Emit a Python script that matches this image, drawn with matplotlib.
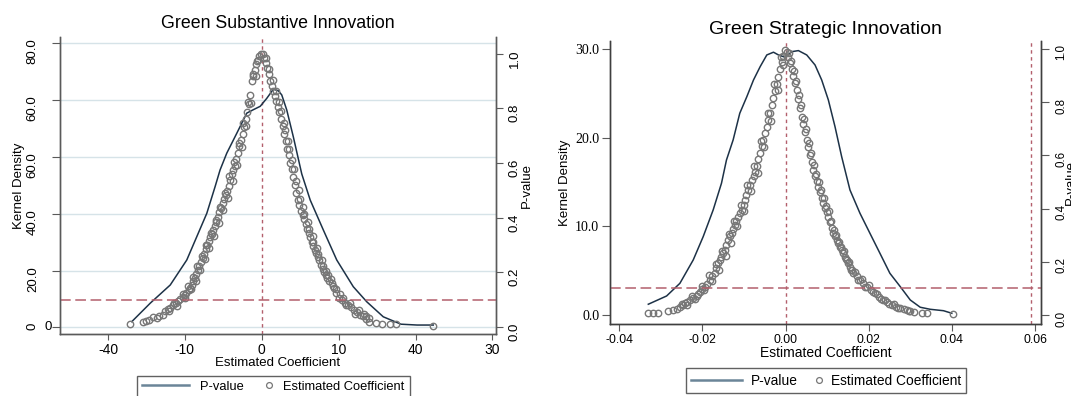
import matplotlib
matplotlib.use('Agg')
import matplotlib.pyplot as plt
from matplotlib.lines import Line2D
from matplotlib.legend_handler import HandlerLine2D
from matplotlib.transforms import blended_transform_factory

plt.rcParams['font.family'] = ['Liberation Sans', 'DejaVu Sans']

# ---- Green Substantive Innovation ----
sub_kd_x = [-16.9, -14.5, -11.9, -9.75, -8.45, -7.15, -6.07, -5.42, -4.55, -3.25, -1.95, -1.1,
            -0.2, 0.65, 1.5, 2.15, 2.6, 3.25, 4.1, 5.2, 6.3, 8.0, 9.75, 11.9, 13.65, 15.8,
            18.1, 20.2, 22.3]
sub_kd_y = [2.0, 8.5, 14.9, 23.7, 31.9, 40.1, 49.5, 55.4, 61.3, 68.3, 75.4, 76.6,
            77.8, 80.6, 83.8, 83.3, 81.8, 76.5, 67.1, 54.0, 44.8, 34.3, 23.7, 14.3, 9.0, 3.7,
            1.1, 0.8, 0.8]

sub_coef_neg = [-17.1, -15.5, -15.0, -14.6, -14.1, -13.6, -13.3, -12.9, -12.6, -12.2, -11.9, -11.5,
                -11.2, -10.9, -10.6, -10.3, -10.0, -9.8, -9.5, -9.3, -9.1, -8.9, -8.7, -8.5,
                -8.3, -8.1, -7.9, -7.7, -7.5, -7.3, -7.1, -6.9, -6.7, -6.5, -6.3, -6.1,
                -5.9, -5.7, -5.5, -5.3, -5.1, -4.9, -4.7, -4.5, -4.3, -4.1, -3.9, -3.7,
                -3.5, -3.3, -3.1, -2.9, -2.7, -2.5, -2.3, -2.1, -1.9, -1.7, -1.5, -1.3,
                -1.1, -0.9, -0.7, -0.5, -0.3, -0.1,
                -12.0, -11.4, -11.0, -10.3, -10.0, -9.6, -9.2, -8.9, -8.6, -8.4, -8.0, -7.8,
                -7.4, -7.2, -6.8, -6.6, -6.2, -6.0, -5.6, -5.4, -5.0, -4.8, -4.4, -4.2,
                -3.8, -3.6, -3.2, -3.0, -2.6, -2.4, -2.0, -1.8, -1.4, -1.2, -0.8, -0.6]
sub_pval_neg = [0.010, 0.018, 0.022, 0.028, 0.036, 0.035, 0.042, 0.045, 0.058, 0.066, 0.070, 0.080,
                0.088, 0.097, 0.104, 0.110, 0.118, 0.125, 0.136, 0.145, 0.153, 0.168, 0.181, 0.195,
                0.208, 0.224, 0.237, 0.252, 0.268, 0.285, 0.300, 0.314, 0.328, 0.342, 0.357, 0.371,
                0.386, 0.404, 0.421, 0.437, 0.453, 0.467, 0.482, 0.499, 0.516, 0.538, 0.560, 0.575,
                0.591, 0.615, 0.638, 0.662, 0.686, 0.708, 0.733, 0.760, 0.787, 0.815, 0.850, 0.900,
                0.918, 0.940, 0.962, 0.978, 0.990, 1.000,
                0.058, 0.090, 0.079, 0.122, 0.105, 0.150, 0.140, 0.185, 0.170, 0.222, 0.210, 0.262,
                0.250, 0.302, 0.290, 0.345, 0.335, 0.392, 0.380, 0.440, 0.428, 0.492, 0.474, 0.552,
                0.535, 0.605, 0.592, 0.675, 0.660, 0.745, 0.735, 0.825, 0.820, 0.925, 0.920, 0.975]

sub_coef_pos = [0.1, 0.3, 0.5, 0.7, 0.9, 1.1, 1.3, 1.5, 1.7, 1.9, 2.1, 2.3, 2.5, 2.7, 2.9, 3.1,
                3.3, 3.5, 3.7, 3.9, 4.1, 4.3, 4.5, 4.7, 4.9, 5.1, 5.3, 5.5, 5.7, 5.9, 6.1, 6.3,
                6.5, 6.7, 6.9, 7.1, 7.3, 7.5, 7.7, 7.9, 8.1, 8.3, 8.5, 8.8, 9.1, 9.4, 9.7, 10.0,
                10.4, 10.8, 11.2, 11.6, 12.0, 12.4, 12.8, 13.2, 13.6, 13.9, 14.9, 15.6, 16.7, 17.5,
                22.3,
                0.6, 1.0, 1.4, 1.8, 2.2, 2.5, 2.9, 3.0, 3.4, 3.6, 3.9, 4.2, 4.5, 4.8, 5.0, 5.4,
                5.5, 6.0, 6.1, 6.6, 6.7, 7.2, 7.3, 7.8, 7.9, 8.4, 8.6, 9.0, 9.2, 9.6, 10.2, 10.5,
                10.9, 11.5, 12.1, 12.6, 13.3, 13.6, 14.0]
sub_pval_pos = [1.000, 0.985, 0.965, 0.948, 0.925, 0.900, 0.880, 0.865, 0.845, 0.826, 0.805, 0.785,
                0.762, 0.735, 0.705, 0.680, 0.650, 0.628, 0.600, 0.578, 0.548, 0.520, 0.490, 0.466,
                0.447, 0.425, 0.410, 0.395, 0.378, 0.360, 0.345, 0.328, 0.311, 0.298, 0.284, 0.272,
                0.258, 0.245, 0.228, 0.214, 0.203, 0.190, 0.180, 0.168, 0.160, 0.145, 0.125, 0.108,
                0.098, 0.090, 0.080, 0.072, 0.062, 0.055, 0.045, 0.040, 0.030, 0.020, 0.015, 0.012,
                0.010, 0.010, 0.006,
                0.985, 0.945, 0.905, 0.865, 0.825, 0.790, 0.745, 0.720, 0.680, 0.650, 0.610, 0.580,
                0.535, 0.500, 0.470, 0.440, 0.415, 0.385, 0.360, 0.335, 0.310, 0.290, 0.268, 0.245,
                0.225, 0.205, 0.190, 0.175, 0.150, 0.140, 0.120, 0.105, 0.080, 0.090, 0.050, 0.062,
                0.048, 0.040, 0.035]

sub_xticks = [-20, -10, 0, 10, 20, 30]
sub_xticklabels = ['-40', '-10', '0', '10', '40', '30']
sub_yticks = [0, 20, 40, 60, 80, 100]
sub_yticklabels = ['0', '20.0', '40.0', '60.0', '60.0', '80.0']

# ---- Green Strategic Innovation ----
str_kd_x = [-0.0330, -0.0286, -0.0254, -0.0222, -0.0198, -0.0174, -0.0154, -0.0142, -0.0126,
            -0.0110, -0.0093, -0.0077, -0.0061, -0.0045, -0.0029, -0.0017, -0.0001, 0.0015,
            0.0031, 0.0051, 0.0071, 0.0087, 0.0103, 0.0119, 0.0135, 0.0155, 0.0179, 0.0203,
            0.0227, 0.0251, 0.0276, 0.0300, 0.0324, 0.0348, 0.0380, 0.0400]
str_kd_y = [1.21, 2.14, 3.57, 6.20, 8.83, 11.84, 14.85, 17.47, 19.73,
            22.74, 24.61, 26.49, 27.99, 29.31, 29.62, 29.31, 29.05, 29.68,
            29.80, 29.31, 28.18, 26.49, 24.24, 21.23, 17.85, 14.09, 11.47, 9.21,
            6.96, 4.70, 3.19, 1.69, 0.87, 0.64, 0.48, 0.19]

str_coef_neg = [-0.0330, -0.0318, -0.0306, -0.0282, -0.0270, -0.0254, -0.0246, -0.0242, -0.0236,
                -0.0230, -0.0222, -0.0214, -0.0210, -0.0206, -0.0200, -0.0194, -0.0188, -0.0182,
                -0.0176, -0.0170, -0.0166, -0.0162, -0.0158, -0.0154, -0.0150, -0.0146, -0.0142,
                -0.0138, -0.0134, -0.0129, -0.0126, -0.0122, -0.0118, -0.0114, -0.0110, -0.0105,
                -0.0101, -0.0097, -0.0094, -0.0090, -0.0086, -0.0081, -0.0077, -0.0073, -0.0069,
                -0.0065, -0.0061, -0.0057, -0.0053, -0.0049, -0.0045, -0.0041, -0.0037, -0.0033,
                -0.0029, -0.0025, -0.0021, -0.0017, -0.0013, -0.0009, -0.0005, -0.0001,
                -0.0262, -0.0250, -0.0238, -0.0226, -0.0218, -0.0202, -0.0196, -0.0184, -0.0178,
                -0.0168, -0.0160, -0.0152, -0.0144, -0.0136, -0.0132, -0.0124, -0.0116, -0.0108,
                -0.0100, -0.0092, -0.0084, -0.0075, -0.0067, -0.0059, -0.0051, -0.0043, -0.0035,
                -0.0027, -0.0019, -0.0011, -0.0007]
str_pval_neg = [0.006, 0.006, 0.006, 0.016, 0.019, 0.029, 0.036, 0.044, 0.050,
                0.056, 0.064, 0.071, 0.080, 0.088, 0.097, 0.106, 0.118, 0.132,
                0.145, 0.157, 0.175, 0.194, 0.206, 0.219, 0.232, 0.244, 0.263,
                0.282, 0.295, 0.307, 0.322, 0.338, 0.354, 0.370, 0.383, 0.395,
                0.414, 0.432, 0.451, 0.470, 0.489, 0.508, 0.524, 0.539, 0.560,
                0.585, 0.608, 0.634, 0.658, 0.683, 0.708, 0.733, 0.758, 0.790,
                0.815, 0.842, 0.870, 0.896, 0.925, 0.950, 0.975, 0.996,
                0.022, 0.040, 0.038, 0.070, 0.060, 0.110, 0.095, 0.150, 0.128,
                0.190, 0.170, 0.242, 0.222, 0.305, 0.270, 0.355, 0.335, 0.415,
                0.392, 0.490, 0.465, 0.560, 0.535, 0.655, 0.630, 0.760, 0.730,
                0.870, 0.845, 0.970, 0.940]

str_coef_pos = [0.0003, 0.0007, 0.0011, 0.0015, 0.0019, 0.0023, 0.0027, 0.0031, 0.0035, 0.0039,
                0.0043, 0.0047, 0.0051, 0.0055, 0.0059, 0.0063, 0.0067, 0.0071, 0.0075, 0.0079,
                0.0083, 0.0087, 0.0091, 0.0095, 0.0099, 0.0103, 0.0107, 0.0111, 0.0115, 0.0119,
                0.0123, 0.0127, 0.0131, 0.0135, 0.0139, 0.0143, 0.0147, 0.0151, 0.0155, 0.0159,
                0.0163, 0.0171, 0.0179, 0.0187, 0.0195, 0.0205, 0.0215, 0.0225, 0.0235, 0.0245,
                0.0256, 0.0266, 0.0276, 0.0292, 0.0300, 0.0328, 0.0340, 0.0402,
                0.0009, 0.0013, 0.0021, 0.0025, 0.0033, 0.0037, 0.0045, 0.0049, 0.0057, 0.0061,
                0.0069, 0.0073, 0.0081, 0.0085, 0.0093, 0.0097, 0.0105, 0.0109, 0.0117, 0.0121,
                0.0129, 0.0133, 0.0141, 0.0145, 0.0153, 0.0157, 0.0167, 0.0175, 0.0183, 0.0191,
                0.0200, 0.0210, 0.0220, 0.0230, 0.0240, 0.0250, 0.0261, 0.0271, 0.0284, 0.0296,
                0.0310]
str_pval_pos = [0.990, 0.968, 0.946, 0.925, 0.900, 0.872, 0.846, 0.812, 0.779, 0.745,
                0.716, 0.687, 0.658, 0.630, 0.602, 0.574, 0.545, 0.524, 0.503, 0.482,
                0.462, 0.441, 0.420, 0.403, 0.387, 0.370, 0.349, 0.328, 0.307, 0.295,
                0.282, 0.270, 0.257, 0.245, 0.232, 0.219, 0.206, 0.194, 0.182, 0.170,
                0.157, 0.145, 0.132, 0.119, 0.106, 0.094, 0.082, 0.069, 0.056, 0.047,
                0.038, 0.031, 0.025, 0.019, 0.015, 0.006, 0.006, 0.003,
                0.985, 0.955, 0.918, 0.880, 0.825, 0.790, 0.735, 0.700, 0.645, 0.610,
                0.565, 0.530, 0.500, 0.470, 0.440, 0.410, 0.390, 0.355, 0.320, 0.300,
                0.275, 0.255, 0.240, 0.210, 0.198, 0.168, 0.160, 0.130, 0.135, 0.104,
                0.112, 0.085, 0.078, 0.060, 0.055, 0.040, 0.042, 0.028, 0.022, 0.016,
                0.012]

str_xticks = [-0.04, -0.02, 0.00, 0.02, 0.04, 0.06]
str_xticklabels = ['-0.04', '-0.02', '0.00', '0.02', '0.04', '0.06']
str_yticks = [0, 10, 20, 30]
str_yticklabels = ['0.0', '10.0', '20.0', '30.0']

p_ticks = [0.0, 0.2, 0.4, 0.6, 0.8, 1.0]
p_ticklabels = ['0.0', '0.2', '0.4', '0.6', '0.8', '1.0']
p_cut = 0.1
str_extra_vline = 0.059

kd_color = '#1d3247'
pt_color = '#777777'
ref_color = '#b35f6c'
spine_color = '#5a5a5a'


class RightMarker(HandlerLine2D):
    # put the circle at the right end of its handle box
    def get_xdata(self, legend, xdescent, ydescent, width, height, fontsize):
        x = -xdescent + width - 0.2 * fontsize
        return [x, x], [x]


def legend_items():
    h1 = Line2D([], [], color='#6b8598', lw=1.8)
    h2 = Line2D([], [], ls='none', marker='o', ms=4.2, mfc='none', mec=pt_color, mew=0.9)
    return [h1, h2], ['P-value', 'Estimated Coefficient'], {h2: RightMarker()}


fig = plt.figure(figsize=(10.71, 3.96), dpi=100)

# ---------------- left panel ----------------
ax1 = fig.add_axes([0.0557, 0.1558, 0.4075, 0.7515])
ax1p = ax1.twinx()

for y in sub_yticks:
    ax1.axhline(y, color='#d6e3e8', lw=1.0, zorder=0)
ax1.plot(sub_kd_x, sub_kd_y, color=kd_color, lw=1.1, zorder=3)
ax1p.plot(sub_coef_neg + sub_coef_pos, sub_pval_neg + sub_pval_pos, ls='none', marker='o',
          ms=4.6, mfc='none', mec=pt_color, mew=1.0, zorder=2)
ax1p.axhline(p_cut, color=ref_color, lw=1.1, dashes=(7, 3))
ax1.axvline(0, color=ref_color, lw=1.0, dashes=(2.5, 2.5))

ax1.set_xlim(-26.28, 30.47)
ax1.set_ylim(-2.46, 102.3)
ax1p.set_ylim(-0.026, 1.062)
ax1.set_xticks(sub_xticks)
ax1.set_xticklabels(sub_xticklabels, fontsize=10)
ax1.set_yticks(sub_yticks)
ax1.set_yticklabels(sub_yticklabels, fontsize=9.5)
ax1.tick_params(axis='y', labelrotation=90, length=6, pad=9, color=spine_color)
ax1.tick_params(axis='x', length=4, pad=2, color=spine_color)
ax1p.set_yticks(p_ticks)
ax1p.set_yticklabels(p_ticklabels, fontsize=9.5)
ax1p.tick_params(axis='y', labelrotation=90, length=5, pad=4, color=spine_color)
# stray upright zero next to the bottom tick, as in the original figure
ax1.text(-0.026, 0, '0', fontsize=9.5, ha='center', va='center',
         transform=blended_transform_factory(ax1.transAxes, ax1.transData), clip_on=False)

ax1.set_title('Green Substantive Innovation', fontsize=12.8, pad=6)
ax1.set_xlabel('Estimated Coefficient', fontsize=9.5, va='center')
ax1.xaxis.set_label_coords(0.5, -0.0955)
ax1.set_ylabel('Kernel Density', fontsize=9.5, va='center')
ax1.yaxis.set_label_coords(-0.093, 0.5)
ax1p.set_ylabel('P-value', fontsize=9.5, va='center')
ax1p.yaxis.set_label_coords(1.071, 0.5)

for a in (ax1, ax1p):
    a.spines['top'].set_visible(False)
    for s in ('left', 'right', 'bottom'):
        a.spines[s].set_color(spine_color)
        a.spines[s].set_linewidth(1.0)

handles, labels, hmap = legend_items()
ax1.legend(handles, labels, handler_map=hmap, ncol=2, loc='upper center',
           bbox_to_anchor=(0.2553, 0.0513), bbox_transform=fig.transFigure,
           fontsize=9.3, frameon=True, fancybox=False, edgecolor='#3a3a3a',
           handlelength=3.6, handletextpad=0.9, columnspacing=-1.45, borderpad=0.4,
           borderaxespad=0)

# ---------------- right panel ----------------
ax2 = fig.add_axes([0.570, 0.1811, 0.4022, 0.7162])
ax2p = ax2.twinx()

ax2.plot(str_kd_x, str_kd_y, color=kd_color, lw=1.1, zorder=3)
ax2p.plot(str_coef_neg + str_coef_pos, str_pval_neg + str_pval_pos, ls='none', marker='o',
          ms=4.6, mfc='none', mec=pt_color, mew=1.0, zorder=2)
ax2p.axhline(p_cut, color=ref_color, lw=1.1, dashes=(7, 3))
ax2.axvline(0, color=ref_color, lw=1.0, dashes=(2.5, 2.5))
ax2.axvline(str_extra_vline, color=ref_color, lw=1.0, dashes=(2.5, 2.5))

ax2.set_xlim(-0.0421, 0.0615)
ax2.set_ylim(-1.05, 30.92)
ax2p.set_ylim(-0.035, 1.031)
ax2.set_xticks(str_xticks)
ax2.set_xticklabels(str_xticklabels, fontsize=8.8)
ax2.set_yticks(str_yticks)
ax2.set_yticklabels(str_yticklabels, fontsize=10, family='Liberation Serif')
ax2.tick_params(axis='y', length=6, pad=2, color=spine_color)
ax2.tick_params(axis='x', length=5, pad=2, color=spine_color)
ax2p.set_yticks(p_ticks)
ax2p.set_yticklabels(p_ticklabels, fontsize=8.3)
ax2p.tick_params(axis='y', labelrotation=90, length=6, pad=4, color=spine_color)

ax2.set_title('Green Strategic Innovation', fontsize=14, pad=4.5)
ax2.set_xlabel('Estimated Coefficient', fontsize=10, va='center')
ax2.xaxis.set_label_coords(0.5, -0.1016)
ax2.set_ylabel('Kernel Density', fontsize=9.5, va='center')
ax2.yaxis.set_label_coords(-0.1045, 0.5)
ax2p.set_ylabel('P-value', fontsize=9.5, va='center')
ax2p.yaxis.set_label_coords(1.068, 0.5)

for a in (ax2, ax2p):
    a.spines['top'].set_visible(False)
    for s in ('left', 'right', 'bottom'):
        a.spines[s].set_color('#3f3f3f')
        a.spines[s].set_linewidth(1.0)

handles, labels, hmap = legend_items()
ax2.legend(handles, labels, handler_map=hmap, ncol=2, loc='upper center',
           bbox_to_anchor=(0.7714, 0.070), bbox_transform=fig.transFigure,
           fontsize=9.9, frameon=True, fancybox=False, edgecolor='#3a3a3a',
           handlelength=3.7, handletextpad=0.66, columnspacing=-2.0, borderpad=0.4,
           borderaxespad=0)

fig.savefig('out.png', dpi=100)
